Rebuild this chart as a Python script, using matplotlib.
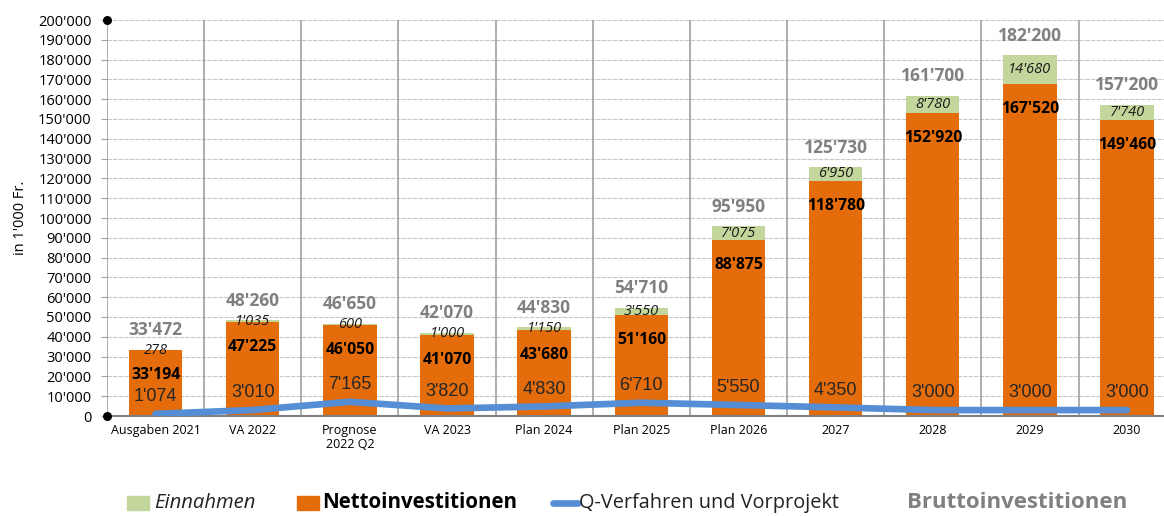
import matplotlib.pyplot as plt
from matplotlib.patches import Rectangle
from matplotlib.lines import Line2D
from matplotlib.ticker import FuncFormatter

#-----------------------Data--------------------------
categories = ['Ausgaben 2021', 'VA 2022', 'Prognose\n2022 Q2', 'VA 2023', 'Plan 2024',
              'Plan 2025', 'Plan 2026', '2027', '2028', '2029', '2030']
netto = [33194, 47225, 46050, 41070, 43680, 51160, 88875, 118780, 152920, 167520, 149460]
einnahmen = [278, 1035, 600, 1000, 1150, 3550, 7075, 6950, 8780, 14680, 7740]
brutto = [33472, 48260, 46650, 42070, 44830, 54710, 95950, 125730, 161700, 182200, 157200]
qverfahren = [1074, 3010, 7165, 3820, 4830, 6710, 5550, 4350, 3000, 3000, 3000]
#------------------------------------------------------

ORANGE = '#E46C0A'
GREEN = '#C3D69B'
BLUE = '#558ED5'
GREY = '#808080'

plt.rcParams['font.family'] = ['Open Sans', 'DejaVu Sans']


def swiss(v):
    return f"{int(v):,}".replace(',', "'")


fig = plt.figure(figsize=(11.64, 5.16), dpi=100)
ax = fig.add_axes([107 / 1164, 100 / 516, 1057 / 1164, 396 / 516])

x = list(range(len(categories)))
ax.bar(x, netto, width=0.55, color=ORANGE, zorder=2)
ax.bar(x, einnahmen, width=0.55, bottom=netto, color=GREEN, zorder=2)
ax.plot(x, qverfahren, color=BLUE, lw=4.8, solid_capstyle='round', solid_joinstyle='round', zorder=3)

ax.set_xlim(-0.5, 10.38)
ax.set_ylim(0, 200000)

# grid
for yv in range(10000, 200001, 10000):
    ax.axhline(yv, color='#C8C8C8', lw=0.8, ls=(0, (4, 1)), zorder=0)
for xv in range(0, 11):
    ax.axvline(xv - 0.5, color='#A0A0A0', lw=1.2, zorder=0)

for s in ['top', 'right', 'left']:
    ax.spines[s].set_visible(False)
ax.spines['bottom'].set_color('#808080')
ax.spines['bottom'].set_linewidth(1.5)

ax.set_yticks(range(0, 200001, 10000))
ax.yaxis.set_major_formatter(FuncFormatter(lambda v, p: swiss(v)))
ax.tick_params(axis='y', length=4, color='#A0A0A0', labelsize=10.5, pad=7)
ax.set_xticks(x)
ax.set_xticklabels(categories, fontsize=9, linespacing=1.1)
ax.tick_params(axis='x', length=0, pad=6)
ax.set_ylabel("in 1'000 Fr.", fontsize=10.5, labelpad=7)

# corner dots
ax.scatter([-0.5, -0.5], [0, 200000], s=30, color='black', clip_on=False, zorder=5)

# labels
for i in x:
    ax.annotate(swiss(brutto[i]), (i, brutto[i]), xytext=(0, 14), textcoords='offset points',
                ha='center', va='center', fontsize=12.5, fontweight='bold', color=GREY)
    ax.text(i, netto[i] + einnahmen[i] / 2, swiss(einnahmen[i]), ha='center', va='center',
            fontsize=10.5, style='italic', color='#1a1a1a', zorder=4)
    ax.annotate(swiss(netto[i]), (i, netto[i]), xytext=(0, -18), textcoords='offset points',
                ha='center', va='center', fontsize=11.3, fontweight='bold', color='black', zorder=4)
    ax.annotate(swiss(qverfahren[i]), (i, qverfahren[i]), xytext=(0, 12.5), textcoords='offset points',
                ha='center', va='center', fontsize=13, color='#262626', family='Liberation Sans', zorder=4)

# legend
ly = 13 / 516
fig.patches.append(Rectangle((127 / 1164, ly - 7 / 516), 22 / 1164, 14 / 516,
                             transform=fig.transFigure, color=GREEN))
fig.text(154 / 1164, ly, 'Einnahmen', style='italic', fontsize=14.6, va='center', color='#222222')
fig.patches.append(Rectangle((297 / 1164, ly - 7 / 516), 22 / 1164, 14 / 516,
                             transform=fig.transFigure, color=ORANGE))
fig.text(322 / 1164, ly, 'Nettoinvestitionen', fontweight='bold', fontsize=14.8, va='center', color='black')
fig.lines.append(Line2D([553 / 1164, 578 / 1164], [ly, ly], transform=fig.transFigure,
                        color=BLUE, lw=4.8, solid_capstyle='round'))
fig.text(579 / 1164, ly, 'Q-Verfahren und Vorprojekt', fontsize=14.3, va='center', color='#222222')
fig.text(907 / 1164, ly, 'Bruttoinvestitionen', fontweight='bold', fontsize=16, va='center', color=GREY)

fig.savefig('out.png', dpi=100)
